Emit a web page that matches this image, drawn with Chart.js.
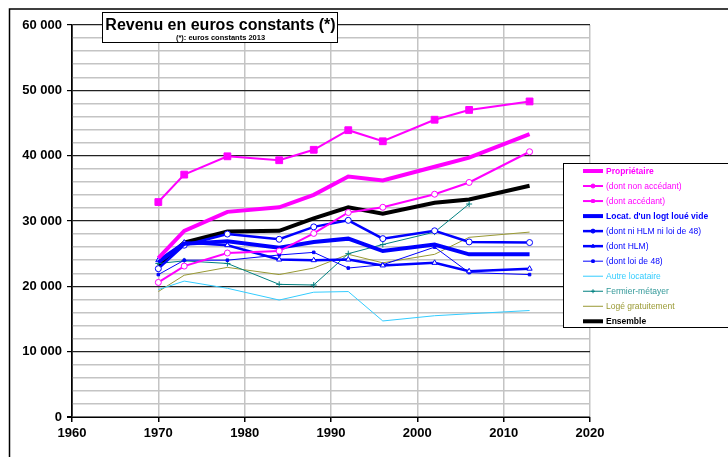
<!DOCTYPE html>
<html>
<head>
<meta charset="utf-8">
<script src="https://cdn.jsdelivr.net/npm/chart.js@4/dist/chart.umd.min.js"></script>
<style>
  html, body { margin: 0; padding: 0; background: #fff; }
  #wrap { width: 728px; height: 457px; position: relative; }
</style>
</head>
<body>
<div id="wrap"><canvas id="myChart"></canvas></div>
<script>
// survey years (x values)
const years = [1970, 1973, 1978, 1984, 1988, 1992, 1996, 2002, 2006, 2013];

// series, euros constants 2013
const proprietaire   = [24300, 28500, 31400, 32100, 34000, 36800, 36200, 38300, 39700, 43300];
const nonAccedant    = [20600, 23100, 25100, 25400, 28100, 31300, 32100, 34100, 35900, 40600];
const accedant       = [32900, 37100, 39900, 39300, 40900, 43900, 42200, 45500, 47000, 48300];
const locatVide      = [23700, 26500, 26900, 25900, 26800, 27300, 25400, 26400, 24900, 24900];
const niHlmNiLoi48   = [22700, 26300, 28000, 27200, 29100, 30100, 27300, 28500, 26800, 26700];
const hlm            = [24000, 26700, 26300, 24100, 24000, 24100, 23200, 23600, 22300, 22700];
const loi48          = [21800, 24000, 24000, 24800, 25200, 22800, 23300, 26000, 22100, 21800];
const autreLocataire = [19500, 20800, 19700, 17900, 19100, 19200, 14700, 15500, 15800, 16300];
const fermier        = [23500, 23900, 23500, 20300, 20200, 25000, 26400, 28300, 32600, null];
const logeGratuit    = [19200, 21700, 22900, 21800, 22800, 24900, 23600, 24900, 27500, 28300];
const ensemble       = [23200, 26700, 28400, 28500, 30400, 32100, 31100, 32800, 33300, 35400];

// axis ticks
const xTicks = [1960, 1970, 1980, 1990, 2000, 2010, 2020];
const yTicks = [0, 10000, 20000, 30000, 40000, 50000, 60000];

const toPoints = arr => years.map((y, i) => ({x: y, y: arr[i]}));

function serie(label, values, color, width, opts) {
  return Object.assign({
    label: label,
    data: toPoints(values),
    borderColor: color,
    backgroundColor: color,
    borderWidth: width,
    pointRadius: 0,
    pointStyle: false,
    pointBorderColor: color,
    pointBackgroundColor: color,
    pointBorderWidth: 1,
    tension: 0,
    spanGaps: false,
    bold: false
  }, opts || {});
}

const datasets = [
  serie('Propriétaire', proprietaire, '#FF00FF', 4, {bold: true}),
  serie('(dont non accédant)', nonAccedant, '#FF00FF', 2, {pointStyle: 'circle', pointRadius: 3, pointBackgroundColor: '#fff', pointBorderWidth: 1}),
  serie('(dont accédant)', accedant, '#FF00FF', 2, {pointStyle: 'rect', pointRadius: 4.8}),
  serie("Locat. d'un logt loué vide", locatVide, '#0000FF', 4, {bold: true}),
  serie('(dont ni HLM ni loi de 48)', niHlmNiLoi48, '#0000FF', 2.5, {pointStyle: 'circle', pointRadius: 3, pointBackgroundColor: '#fff', pointBorderWidth: 1}),
  serie('(dont HLM)', hlm, '#0000FF', 2.5, {pointStyle: 'triangle', pointRadius: 3, pointBackgroundColor: '#fff', pointBorderWidth: 1}),
  serie('(dont loi de 48)', loi48, '#0000FF', 1, {pointStyle: 'rect', pointRadius: 1.8}),
  serie('Autre locataire', autreLocataire, '#33CCFF', 1),
  serie('Fermier-métayer', fermier, '#008080', 1, {pointStyle: 'cross', pointRadius: 3}),
  serie('Logé gratuitement', logeGratuit, '#999933', 1),
  serie('Ensemble', ensemble, '#000000', 4, {bold: true})
];

// legend text colours
const legendText = ['#FF00FF', '#FF00FF', '#FF00FF', '#0000FF', '#0000FF', '#0000FF', '#0000FF', '#33CCFF', '#339999', '#999933', '#000000'];

const framePlugin = {
  id: 'frame',
  beforeDraw(chart) {
    const ctx = chart.ctx;
    ctx.save();
    ctx.strokeStyle = '#000';
    ctx.lineWidth = 1.5;
    ctx.strokeRect(9.5, 9, 800, 500);
    ctx.restore();
  },
  afterDraw(chart) {
    const ctx = chart.ctx;
    ctx.save();
    // title box
    ctx.fillStyle = '#fff';
    ctx.fillRect(102, 12.5, 235, 30);
    ctx.strokeStyle = '#000';
    ctx.lineWidth = 1;
    ctx.strokeRect(102.5, 12.5, 235, 30);
    ctx.fillStyle = '#000';
    ctx.textAlign = 'center';
    ctx.textBaseline = 'alphabetic';
    ctx.font = 'bold 16px "Liberation Sans", Arial, sans-serif';
    ctx.fillText('Revenu en euros constants (*)', 220.5, 29.5);
    ctx.font = 'bold 7.5px "Liberation Sans", Arial, sans-serif';
    ctx.fillText('(*): euros constants 2013', 220.5, 39.5);

    // legend box
    ctx.fillStyle = '#fff';
    ctx.fillRect(563, 163, 170, 165);
    ctx.strokeStyle = '#000';
    ctx.lineWidth = 1;
    ctx.strokeRect(563.5, 163.5, 170, 164);
    chart.data.datasets.forEach((ds, i) => {
      const y = 171 + i * 15.03;
      ctx.strokeStyle = ds.borderColor;
      ctx.lineWidth = ds.borderWidth;
      ctx.beginPath();
      ctx.moveTo(583, y);
      ctx.lineTo(603, y);
      ctx.stroke();
      if (ds.pointStyle) {
        ctx.fillStyle = ds.borderColor;
        ctx.strokeStyle = ds.pointBorderColor;
        ctx.lineWidth = 1;
        Chart.helpers.drawPoint(ctx, {pointStyle: ds.pointStyle, radius: Math.min(ds.pointRadius, 2), borderWidth: 1, rotation: 0}, 593, y);
      }
      ctx.fillStyle = legendText[i];
      ctx.textAlign = 'left';
      ctx.textBaseline = 'middle';
      ctx.font = (ds.bold ? 'bold ' : '') + '8.5px "Liberation Sans", Arial, sans-serif';
      ctx.fillText(ds.label, 606, y + 0.5);
    });
    ctx.restore();
  }
};

const fmt = v => String(v).replace(/\B(?=(\d{3})+(?!\d))/g, ' ');

const myChart = document.getElementById('myChart');

let lineChart = new Chart(myChart, {
  type: 'line',
  data: { datasets: datasets },
  plugins: [framePlugin],
  options: {
    responsive: true,
    maintainAspectRatio: false,
    animation: false,
    layout: { padding: { top: 25, right: 138, left: 0, bottom: 0 } },
    plugins: {
      legend: { display: false },
      tooltip: { enabled: false },
      title: { display: false }
    },
    scales: {
      x: {
        type: 'linear',
        min: 1960,
        max: 2020,
        afterFit: s => { s.height = 40; },
        afterBuildTicks: s => { s.ticks = xTicks.map(v => ({value: v})); },
        ticks: {
          color: '#000',
          font: { family: '"Liberation Sans", Arial, sans-serif', size: 13, weight: 'bold' },
          padding: 4,
          maxRotation: 0,
          autoSkip: false,
          callback: v => String(v)
        },
        grid: {
          color: c => c.tick && c.tick.value === 1960 ? '#000' : '#c4c4c4',
          lineWidth: 1.5,
          tickLength: 5,
          tickColor: '#000'
        },
        border: { color: '#000', width: 1 }
      },
      y: {
        min: 0,
        max: 60000,
        afterFit: s => { s.width = 72; },
        ticks: {
          stepSize: 2000,
          autoSkip: false,
          color: '#000',
          padding: 5,
          font: { family: '"Liberation Sans", Arial, sans-serif', size: 13, weight: 'bold' },
          callback: v => (yTicks.includes(v) ? fmt(v) : '')
        },
        grid: {
          color: c => {
            const v = c.tick ? c.tick.value : 0;
            if (v === 0) return '#777';
            return v % 10000 === 0 ? '#222' : '#c4c4c4';
          },
          lineWidth: c => (c.tick && c.tick.value === 0 ? 2 : (c.tick && c.tick.value % 10000 === 0 ? 1.2 : 1.5)),
          tickLength: 5,
          tickColor: c => (c.tick && c.tick.value % 10000 === 0 ? '#000' : 'rgba(0,0,0,0)')
        },
        border: { color: '#000', width: 1.5 }
      }
    }
  }
});
</script>
</body>
</html>
